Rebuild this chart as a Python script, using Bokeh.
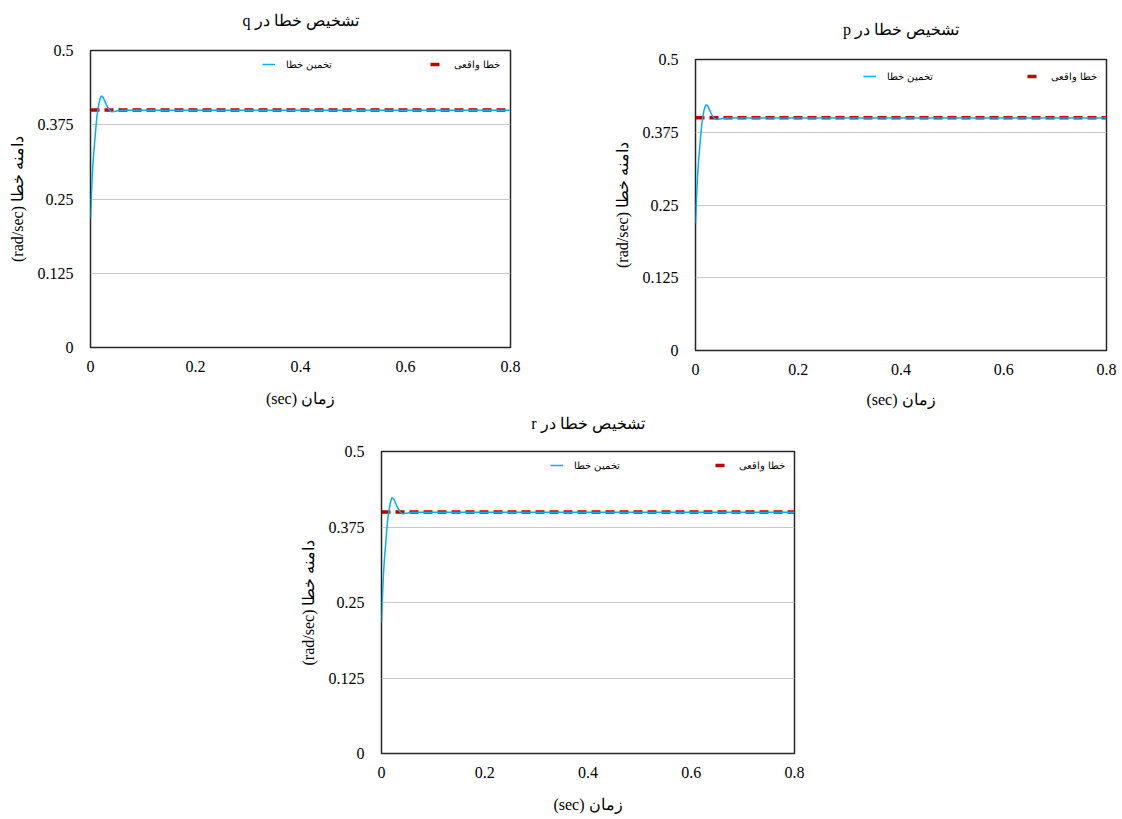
from bokeh.plotting import figure
from bokeh.layouts import column, row
from bokeh.models import Range1d, FixedTicker, Legend, LegendItem, Spacer, Title
from bokeh.embed import file_html
from bokeh.resources import INLINE

# ---------------- data ----------------
x_ticks = [0, 0.2, 0.4, 0.6, 0.8]
x_tick_labels = ["0", "0.2", "0.4", "0.6", "0.8"]
y_ticks = [0, 0.125, 0.25, 0.375, 0.5]
y_tick_labels = ["0", "0.125", "0.25", "0.375", "0.5"]

time = [0, 0.002, 0.004, 0.006, 0.008, 0.010, 0.012, 0.014, 0.016, 0.018,
        0.020, 0.022, 0.024, 0.026, 0.028, 0.030, 0.033, 0.036, 0.040,
        0.045, 0.050, 0.060, 0.8]
est_q = [0.217, 0.262, 0.300, 0.326, 0.346, 0.368, 0.387, 0.400, 0.410, 0.418,
         0.423, 0.423, 0.421, 0.417, 0.413, 0.409, 0.404, 0.400, 0.397,
         0.3975, 0.398, 0.3995, 0.3995]
est_p = [0.218, 0.262, 0.300, 0.326, 0.346, 0.368, 0.387, 0.400, 0.410, 0.417,
         0.422, 0.422, 0.420, 0.416, 0.412, 0.408, 0.403, 0.400, 0.397,
         0.3975, 0.398, 0.3995, 0.3995]
est_r = [0.217, 0.262, 0.300, 0.326, 0.346, 0.368, 0.387, 0.400, 0.410, 0.418,
         0.423, 0.423, 0.421, 0.417, 0.413, 0.409, 0.404, 0.400, 0.397,
         0.3975, 0.398, 0.3995, 0.3995]
actual_time = [0, 0.8]
actual_q = [0.4, 0.4]
actual_p = [0.4, 0.4]
actual_r = [0.4, 0.4]

RLE, PDF = "\u202b", "\u202c"
titles = {"q": "تشخیص خطا در q", "p": "تشخیص خطا در p", "r": "تشخیص خطا در r"}
x_label = "زمان (sec)"
y_label = "دامنه خطا (rad/sec)"
label_est = "تخمین خطا"
label_actual = "خطا واقعی"

SERIF = "'Liberation Serif', 'Times New Roman', serif"


def make_chart(key, est, actual, width, height, bl, br, bt, bb, title_gap,
               leg_off, xlab_standoff):
    fw = width - bl - br
    fh = height - bt - bb
    p = figure(width=width, height=height, output_backend="svg",
               toolbar_location=None, title=None,
               x_range=Range1d(0, 0.8), y_range=Range1d(0, 0.5),
               min_border_left=bl, min_border_right=br,
               min_border_top=bt, min_border_bottom=bb)

    # empty spacer title (nearest the frame) then the real chart title
    p.add_layout(Title(text=" ", text_font_size="1px", standoff=title_gap - 3), "above")
    p.add_layout(Title(text=RLE + titles[key] + PDF, align="center", standoff=0,
                       text_font=SERIF, text_font_size="16px",
                       text_font_style="normal", text_color="#000000"), "above")

    p.background_fill_color = "white"
    p.border_fill_color = "white"
    p.outline_line_color = "#262626"
    p.outline_line_width = 1.5

    p.xaxis.ticker = FixedTicker(ticks=x_ticks)
    p.yaxis.ticker = FixedTicker(ticks=y_ticks)
    p.xaxis.major_label_overrides = dict(zip(x_ticks, x_tick_labels))
    p.yaxis.major_label_overrides = dict(zip(y_ticks, y_tick_labels))
    p.xgrid.visible = False
    p.ygrid.ticker = FixedTicker(ticks=y_ticks)
    p.ygrid.grid_line_color = "#C8C8C8"
    p.ygrid.grid_line_width = 1

    for ax in (p.xaxis[0], p.yaxis[0]):
        ax.axis_line_color = None
        ax.major_tick_line_color = None
        ax.minor_tick_line_color = None
        ax.major_tick_out = 0
        ax.major_tick_in = 0
        ax.major_label_text_font = SERIF
        ax.major_label_text_font_size = "16px"
        ax.major_label_text_color = "#000000"
        ax.axis_label_text_font = SERIF
        ax.axis_label_text_font_size = "16px"
        ax.axis_label_text_font_style = "normal"
        ax.axis_label_text_color = "#000000"
    p.xaxis.major_label_standoff = 13
    p.yaxis.major_label_standoff = 17
    p.xaxis.axis_label = RLE + x_label + PDF
    p.yaxis.axis_label = RLE + y_label + PDF
    p.xaxis.axis_label_standoff = xlab_standoff
    p.yaxis.axis_label_standoff = 9

    r_act = p.line(actual_time, actual, line_color="#C00000", line_width=3.5,
                   line_dash="9 5")
    r_est = p.line(time, est, line_color="#00B0F0", line_width=1.5)

    leg_y = fh - leg_off
    for frac, lab, rend in ((0.41, label_est, r_est), (0.81, label_actual, r_act)):
        lg = Legend(items=[LegendItem(label=lab, renderers=[rend])],
                    location=(int(frac * fw), leg_y),
                    orientation="horizontal",
                    padding=0, margin=0, spacing=0,
                    glyph_width=13, glyph_height=12,
                    label_height=12, label_standoff=11,
                    label_text_font="Liberation Sans",
                    label_text_font_size="10px",
                    label_text_color="#000000",
                    background_fill_alpha=0, border_line_color=None)
        p.add_layout(lg)
    return p


fig_q = make_chart("q", est_q, actual_q, 560, 410, 90, 50, 50, 63, 22, 20, 15)
fig_p = make_chart("p", est_p, actual_p, 562, 401, 135, 16, 50, 60, 22, 23, 13)
fig_r = make_chart("r", est_r, actual_r, 540, 405, 91, 36, 41, 62, 20, 20, 15)

top = row(column(fig_q), column(Spacer(width=562, height=9), fig_p))
bottom = row(Spacer(width=290, height=405), fig_r)
layout = column(top, bottom)

open("out.html", "w").write(file_html(layout, INLINE))
